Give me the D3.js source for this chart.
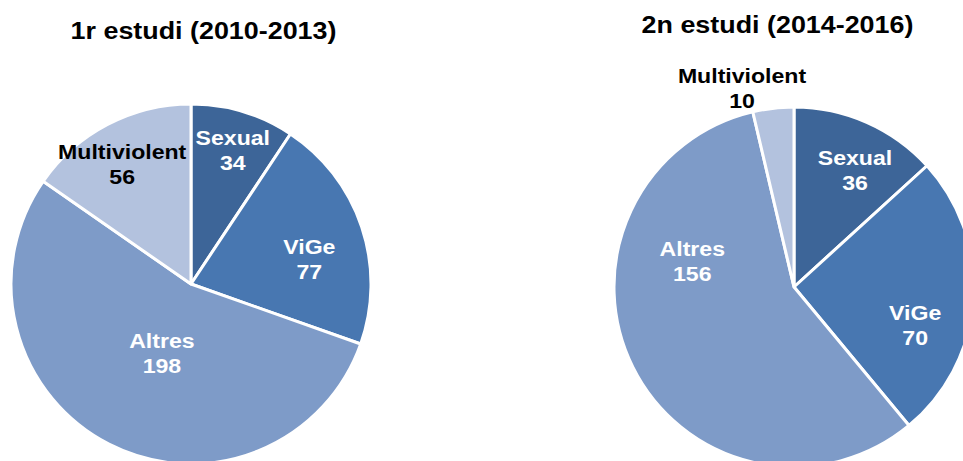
<!DOCTYPE html>
<html>
<head>
<meta charset="utf-8">
<script src="https://cdn.jsdelivr.net/npm/d3@7"></script>
<style>
  html, body { margin: 0; padding: 0; background: #fff; }
  svg { display: block; font-family: "Liberation Sans", Arial, sans-serif; }
</style>
</head>
<body>
<svg id="chart" width="963" height="461"></svg>
<script>
// ---- Data ----
const categories = ["Sexual", "ViGe", "Altres", "Multiviolent"];
const study1Title = "1r estudi (2010-2013)";
const study2Title = "2n estudi (2014-2016)";
const study1Values = [34, 77, 198, 56];
const study2Values = [36, 70, 156, 10];

// ---- Styles ----
const colors = ["#3D6598", "#4877B1", "#7E9BC8", "#B3C2DE"];
const labelColors = ["#fff", "#fff", "#fff", "#000"];
// label placement (Excel "best fit"): radius and angular offset from slice mid-angle (deg)
const study1LabelRadius = [140, 121, 75, 138];
const study1LabelAngleOffset = [0.6, 6.5, -4.3, -2.3];
const study2LabelRadius = [132, 127, 105, 206];
const study2LabelAngleOffset = [3.7, 13.4, 40.8, -8];

const svg = d3.select("#chart");
const R = 180;

function drawPie(cx, cy, title, titleX, titleY, values, lr, lao) {
  const g = svg.append("g").attr("transform", `translate(${cx},${cy})`);
  const data = categories.map((c, i) => ({cat: c, value: values[i], i}));
  const pie = d3.pie().sort(null).value(d => d.value);
  const arc = d3.arc().innerRadius(0).outerRadius(R);
  const arcs = pie(data);

  g.selectAll("path").data(arcs).enter().append("path")
    .attr("d", arc)
    .attr("fill", d => colors[d.data.i])
    .attr("stroke", "#fff")
    .attr("stroke-width", 3)
    .attr("stroke-linejoin", "round");

  const lab = g.selectAll("g.lab").data(arcs).enter().append("g")
    .attr("class", "lab")
    .attr("transform", d => {
      const a = (d.startAngle + d.endAngle) / 2 + lao[d.data.i] * Math.PI / 180;
      const r = lr[d.data.i];
      return `translate(${r * Math.sin(a)},${-r * Math.cos(a)}) scale(1.1,1)`;
    });
  lab.append("text")
    .attr("text-anchor", "middle")
    .attr("y", -5)
    .attr("font-size", 21)
    .attr("font-weight", "bold")
    .attr("fill", d => labelColors[d.data.i])
    .text(d => d.data.cat);
  lab.append("text")
    .attr("text-anchor", "middle")
    .attr("y", 20)
    .attr("font-size", 21)
    .attr("font-weight", "bold")
    .attr("fill", d => labelColors[d.data.i])
    .text(d => d.data.value);

  svg.append("text")
    .attr("transform", `translate(${titleX},${titleY}) scale(1.12,1)`)
    .attr("text-anchor", "middle")
    .attr("font-size", 24)
    .attr("font-weight", "bold")
    .attr("fill", "#000")
    .text(title);
}

drawPie(191, 284, study1Title, 203.5, 38.5, study1Values, study1LabelRadius, study1LabelAngleOffset);
drawPie(794, 287, study2Title, 777.5, 32.5, study2Values, study2LabelRadius, study2LabelAngleOffset);
</script>
</body>
</html>
